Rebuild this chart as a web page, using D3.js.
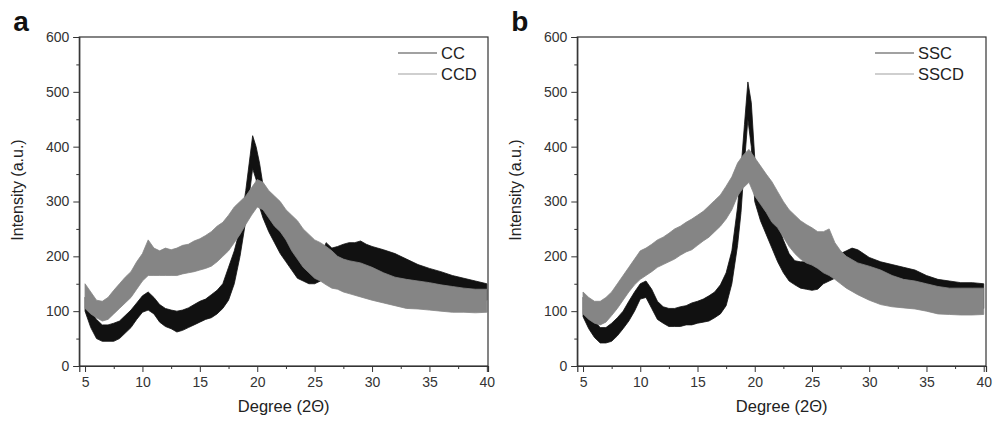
<!DOCTYPE html>
<html>
<head>
<meta charset="utf-8">
<script src="https://cdn.jsdelivr.net/npm/d3@7"></script>
<style>
  body { margin: 0; background: #fff; }
  svg { display: block; font-family: "Liberation Sans", Arial, sans-serif; }
</style>
</head>
<body>
<div id="container"></div>
<script>
let w = 1000;
let h = 421;

// DATA: [degree, lower edge of noise band, upper edge]
let cc = [
  [5.0,100,125],[5.5,70,100],[6.0,50,85],[6.5,45,75],[7.0,45,75],[7.5,45,78],[8.0,50,82],
  [8.5,60,92],[9.0,70,102],[9.5,85,115],[10.0,98,128],[10.5,102,135],[11.0,95,125],
  [11.5,80,112],[12.0,72,105],[12.5,68,102],[13.0,62,100],[13.5,65,102],[14.0,70,106],
  [14.5,75,112],[15.0,80,118],[15.5,85,122],[16.0,88,130],[16.5,95,138],[17.0,105,150],
  [17.5,120,180],[18.0,150,210],[18.5,200,250],[19.0,265,320],[19.3,310,370],[19.6,360,420],
  [19.9,340,400],[20.2,290,370],[20.5,270,330],[21.0,245,300],[21.5,225,275],[22.0,205,255],
  [22.5,190,240],[23.0,175,225],[23.5,160,210],[24.0,155,200],[24.5,150,195],[25.0,150,190],
  [25.5,155,200],[26.0,165,225],[26.5,170,215],[27.0,175,218],[27.5,180,222],[28.0,182,225],
  [28.5,182,225],[29.0,180,228],[29.5,178,222],[30.0,175,218],[31.0,168,212],[32.0,160,205],
  [33.0,155,195],[34.0,148,185],[35.0,142,178],[36.0,138,172],[37.0,132,165],[38.0,128,160],
  [39.0,125,155],[40.0,120,150]
];
let ccd = [
  [5.0,105,150],[5.5,95,135],[6.0,88,120],[6.5,82,118],[7.0,85,125],[7.5,95,138],[8.0,105,150],
  [8.5,115,162],[9.0,125,172],[9.5,140,190],[10.0,155,205],[10.5,165,230],[11.0,165,215],
  [11.5,165,210],[12.0,165,215],[12.5,165,212],[13.0,165,215],[13.5,168,220],[14.0,170,222],
  [14.5,172,228],[15.0,175,232],[15.5,178,238],[16.0,182,245],[16.5,190,255],[17.0,200,262],
  [17.5,210,275],[18.0,225,290],[18.5,240,300],[19.0,258,310],[19.5,275,325],[20.0,290,340],
  [20.5,285,335],[21.0,270,320],[21.5,255,310],[22.0,245,300],[22.5,230,285],[23.0,210,275],
  [23.5,195,265],[24.0,180,250],[24.5,170,240],[25.0,160,230],[25.5,155,225],[26.0,148,218],
  [26.5,142,210],[27.0,140,200],[27.5,135,195],[28.0,132,192],[29.0,126,188],[30.0,120,180],
  [31.0,115,170],[32.0,110,162],[33.0,105,158],[34.0,104,155],[35.0,102,152],[36.0,100,148],
  [37.0,98,145],[38.0,98,142],[39.0,97,140],[40.0,98,140]
];
let ssc = [
  [5.0,90,125],[5.5,68,100],[6.0,52,82],[6.5,42,70],[7.0,42,70],[7.5,45,78],[8.0,55,88],
  [8.5,68,100],[9.0,82,118],[9.5,100,135],[10.0,122,150],[10.5,125,155],[11.0,105,140],
  [11.5,85,118],[12.0,78,108],[12.5,72,105],[13.0,72,105],[13.5,72,108],[14.0,75,110],
  [14.5,75,115],[15.0,78,118],[15.5,80,122],[16.0,82,128],[16.5,88,135],[17.0,95,148],
  [17.5,110,170],[18.0,150,210],[18.5,220,290],[18.8,280,360],[19.1,370,440],[19.4,450,518],
  [19.7,400,480],[20.0,300,380],[20.5,265,330],[21.0,240,300],[21.5,215,275],[22.0,190,260],
  [22.5,170,230],[23.0,155,205],[23.5,148,192],[24.0,142,190],[24.5,140,190],[25.0,138,190],
  [25.5,140,195],[26.0,150,200],[26.5,155,195],[27.0,160,200],[27.5,165,205],[28.0,168,210],
  [28.5,168,215],[29.0,165,212],[29.5,160,205],[30.0,152,198],[31.0,145,190],[32.0,140,185],
  [33.0,135,180],[34.0,130,175],[35.0,120,165],[36.0,112,158],[37.0,110,155],[38.0,108,152],
  [39.0,106,152],[40.0,105,150]
];
let sscd = [
  [5.0,95,135],[5.5,85,125],[6.0,78,118],[6.5,75,118],[7.0,80,125],[7.5,92,135],[8.0,105,150],
  [8.5,120,165],[9.0,135,180],[9.5,148,195],[10.0,158,210],[10.5,165,215],[11.0,172,222],
  [11.5,180,230],[12.0,185,235],[12.5,190,242],[13.0,195,250],[13.5,202,255],[14.0,208,262],
  [14.5,212,268],[15.0,220,275],[15.5,228,282],[16.0,235,292],[16.5,245,302],[17.0,255,312],
  [17.5,268,328],[18.0,285,345],[18.5,310,370],[19.0,325,385],[19.5,335,395],[20.0,310,380],
  [20.5,295,365],[21.0,280,350],[21.5,262,336],[22.0,252,318],[22.5,235,300],[23.0,218,285],
  [23.5,205,275],[24.0,195,265],[24.5,188,258],[25.0,184,252],[25.5,178,245],[26.0,170,245],
  [26.5,165,250],[27.0,158,225],[27.5,150,210],[28.0,142,200],[29.0,130,188],[30.0,120,182],
  [31.0,112,175],[32.0,108,165],[33.0,106,158],[34.0,104,155],[35.0,100,150],[36.0,95,145],
  [37.0,94,142],[38.0,93,142],[39.0,93,142],[40.0,94,142]
];

let xTicks = [5, 10, 15, 20, 25, 30, 35, 40];
let yTicks = [0, 100, 200, 300, 400, 500, 600];
let panelLetters = ["a", "b"];
let seriesNames = [["CC", "CCD"], ["SSC", "SSCD"]];

let black = "#111111";
let gray = "#858585";

// SVG
let viz = d3.select("#container").append("svg")
    .attr("width", w)
    .attr("height", h)
    .style("background-color", "white")
;

function drawPanel(left, right, xMax, letter, names, dark, light, legendX) {
  let top = 37;
  let bottom = 366;

  let xScale = d3.scaleLinear().domain([4.5, xMax]).range([left, right]);
  let yScale = d3.scaleLinear().domain([0, 600]).range([bottom, top]);

  let g = viz.append("g");

  // noise bands
  let band = d3.area()
      .x(function(d){ return xScale(d[0]); })
      .y0(function(d){ return yScale(d[1]); })
      .y1(function(d){ return yScale(d[2]); })
  ;
  g.append("path").attr("d", band(dark))
    .attr("fill", black).attr("stroke", black).attr("stroke-width", 0.8);
  g.append("path").attr("d", band(light))
    .attr("fill", gray).attr("stroke", gray).attr("stroke-width", 0.8);

  // frame
  g.append("rect")
    .attr("x", left).attr("y", top)
    .attr("width", right - left).attr("height", bottom - top)
    .attr("fill", "none").attr("stroke", "#333").attr("stroke-width", 1.2);

  // minor ticks
  let xMinor = d3.range(7.5, 40, 5);
  let yMinor = d3.range(50, 600, 100);

  let xAxis = d3.axisBottom(xScale).tickValues(xTicks).tickSize(6).tickPadding(5);
  let yAxis = d3.axisLeft(yScale).tickValues(yTicks).tickSize(6).tickPadding(4);

  let gx = g.append("g").attr("transform", "translate(0," + bottom + ")").call(xAxis);
  let gy = g.append("g").attr("transform", "translate(" + left + ",0)").call(yAxis);
  g.append("g").attr("transform", "translate(0," + bottom + ")")
    .call(d3.axisBottom(xScale).tickValues(xMinor).tickSize(3).tickFormat(""))
    .select(".domain").remove();
  g.append("g").attr("transform", "translate(" + left + ",0)")
    .call(d3.axisLeft(yScale).tickValues(yMinor).tickSize(3).tickFormat(""))
    .select(".domain").remove();

  g.selectAll(".domain").attr("stroke", "#333").attr("stroke-width", 1.2);
  g.selectAll(".tick line").attr("stroke", "#333");
  gx.selectAll("text").attr("font-size", 14).attr("fill", "#333")
    .style("font-family", "Liberation Sans, Arial, sans-serif");
  gy.selectAll("text").attr("font-size", 14).attr("fill", "#333")
    .style("font-family", "Liberation Sans, Arial, sans-serif");

  // axis titles
  g.append("text")
    .attr("x", (left + right) / 2).attr("y", 412)
    .attr("text-anchor", "middle").attr("font-size", 16.5).attr("fill", "#222")
    .text("Degree (2Θ)");
  g.append("text")
    .attr("transform", "translate(" + (left - 56) + ",190) rotate(-90)")
    .attr("text-anchor", "middle").attr("font-size", 16).attr("fill", "#222")
    .text("Intensity (a.u.)");

  // panel letter
  g.append("text")
    .attr("x", left - 66).attr("y", 31)
    .attr("font-size", 28).attr("font-weight", "bold").attr("fill", "#111")
    .text(letter);

  // legend
  let legendColors = ["#444", "#a0a0a0"];
  let lg = viz.append("g").attr("class", "legend");
  names.forEach(function(n, i){
    let ly = 53 + i * 21;
    lg.append("line")
      .attr("x1", legendX).attr("x2", legendX + 39)
      .attr("y1", ly).attr("y2", ly)
      .attr("stroke", legendColors[i]).attr("stroke-width", 1.2);
    lg.append("text")
      .attr("x", legendX + 43).attr("y", ly + 6)
      .attr("font-size", 16.5).attr("fill", "#222")
      .text(n);
  });
}

drawPanel(79.3, 488, 40.1, panelLetters[0], seriesNames[0], cc, ccd, 398);
drawPanel(577.3, 986, 40.2, panelLetters[1], seriesNames[1], ssc, sscd, 875);
</script>
</body>
</html>
